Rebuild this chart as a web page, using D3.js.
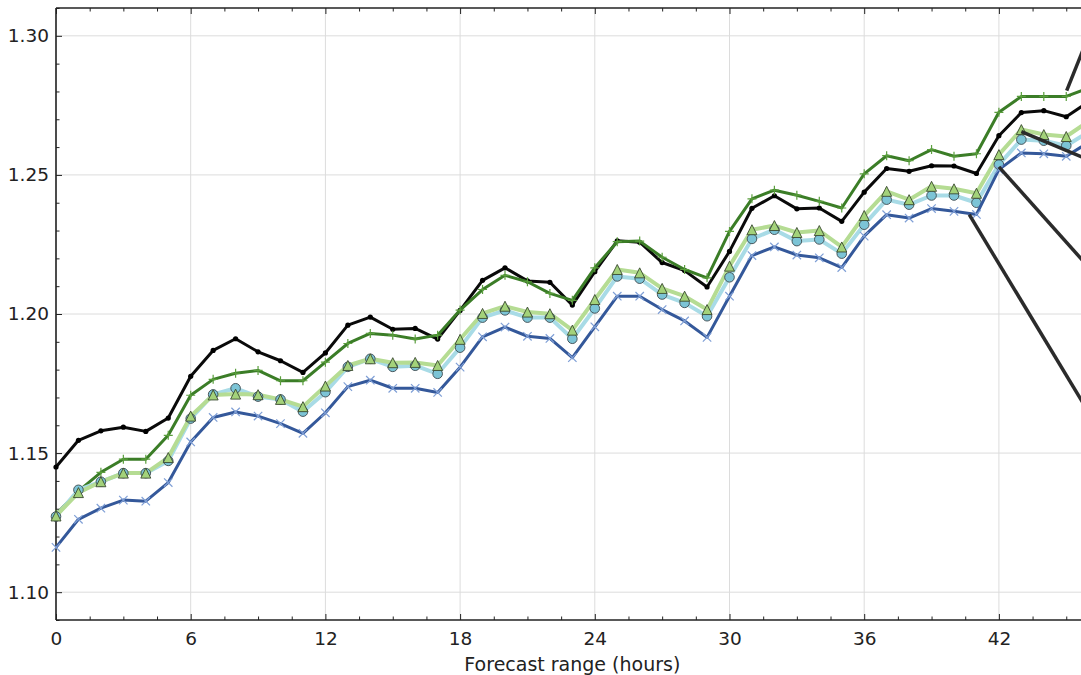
<!DOCTYPE html>
<html><head><meta charset="utf-8">
<script src="https://cdn.jsdelivr.net/npm/d3@7"></script>
<style>
html,body{margin:0;padding:0;background:#fff;overflow:hidden;}
text{font-family:"DejaVu Sans",sans-serif;fill:#222;}
</style></head>
<body><svg id="chart" width="1081" height="675"></svg>
<script>
const hours = d3.range(0, 47);
const xTicks = [0, 6, 12, 18, 24, 30, 36, 42];
const yTicks = [1.10, 1.15, 1.20, 1.25, 1.30];
const xLabel = "Forecast range (hours)";

const blackSeries = [1.1450,1.1546,1.1580,1.1593,1.1578,1.1626,1.1776,1.1869,1.1911,1.1864,1.1832,1.1790,1.1860,1.1960,1.1989,1.1945,1.1948,1.1910,1.2013,1.2121,1.2166,1.2119,1.2114,1.2032,1.2152,1.2263,1.2258,1.2185,1.2156,1.2097,1.2225,1.2380,1.2425,1.2378,1.2381,1.2333,1.2438,1.2523,1.2513,1.2533,1.2532,1.2505,1.2641,1.2724,1.2731,1.2709,1.2763];
const darkGreenSeries = [1.1280,1.1363,1.1431,1.1478,1.1478,1.1564,1.1708,1.1765,1.1787,1.1797,1.1760,1.1760,1.1827,1.1894,1.1930,1.1924,1.1910,1.1924,1.2014,1.2088,1.2139,1.2116,1.2074,1.2049,1.2166,1.2260,1.2262,1.2204,1.2160,1.2130,1.2297,1.2414,1.2445,1.2427,1.2405,1.2381,1.2504,1.2569,1.2551,1.2591,1.2567,1.2576,1.2725,1.2782,1.2782,1.2782,1.2813];
const lightGreenSeries = [1.1274,1.1358,1.1397,1.1428,1.1428,1.1484,1.1633,1.1709,1.1712,1.1710,1.1693,1.1667,1.1741,1.1815,1.1839,1.1825,1.1826,1.1815,1.1909,1.2002,1.2028,1.2007,1.2001,1.1942,1.2052,1.2160,1.2148,1.2092,1.2064,1.2016,1.2172,1.2303,1.2318,1.2293,1.2300,1.2241,1.2354,1.2441,1.2411,1.2459,1.2450,1.2434,1.2573,1.2663,1.2645,1.2638,1.2693];
const lightBlueSeries = [1.1272,1.1368,1.1397,1.1428,1.1428,1.1472,1.1624,1.1711,1.1733,1.1703,1.1693,1.1649,1.1719,1.1810,1.1839,1.1810,1.1814,1.1785,1.1879,1.1987,1.2013,1.1987,1.1987,1.1911,1.2020,1.2135,1.2127,1.2070,1.2040,1.1992,1.2132,1.2270,1.2303,1.2262,1.2268,1.2217,1.2321,1.2411,1.2393,1.2426,1.2426,1.2400,1.2537,1.2627,1.2623,1.2605,1.2655];
const darkBlueSeries = [1.1161,1.1262,1.1302,1.1331,1.1327,1.1394,1.1540,1.1628,1.1648,1.1633,1.1606,1.1571,1.1645,1.1739,1.1762,1.1733,1.1733,1.1718,1.1809,1.1918,1.1953,1.1920,1.1912,1.1843,1.1954,1.2064,1.2064,1.2016,1.1975,1.1916,1.2064,1.2210,1.2241,1.2212,1.2202,1.2167,1.2280,1.2357,1.2345,1.2379,1.2369,1.2358,1.2519,1.2579,1.2576,1.2567,1.2617];

// annotation pointers: [fromHour, fromValue, toHour, toValue]
const annotationLines = [
  [45.02, 1.2803, 46.2, 1.3041],
  [43.0, 1.2656, 46.5, 1.2537],
  [42.0, 1.2529, 46.5, 1.2123],
  [40.68, 1.2357, 46.5, 1.1580]
];

const svg = d3.select("#chart");
const L = 56, T = 8, B = 620, R = 1088.7;
const x = d3.scaleLinear().domain([0, 46]).range([L, R]);
const y = d3.scaleLinear().domain([1.09, 1.31]).range([B, T]);

// grid
const grid = svg.append("g");
grid.selectAll(".gx").data(xTicks).enter().append("line")
  .attr("x1", d => x(d)).attr("x2", d => x(d)).attr("y1", T).attr("y2", B)
  .attr("stroke", "#dcdcdc").attr("stroke-width", 1);
grid.selectAll(".gy").data(yTicks).enter().append("line")
  .attr("x1", L).attr("x2", R).attr("y1", d => y(d)).attr("y2", d => y(d))
  .attr("stroke", "#dcdcdc").attr("stroke-width", 1);

// axes (inward ticks)
const minorX = d3.range(0, 46.01, 1.5).filter(v => !xTicks.includes(v));
const minorY = d3.range(1.09, 1.3101, 0.01).map(v => +v.toFixed(2)).filter(v => !yTicks.includes(v));

svg.append("g").attr("transform", `translate(0,${B})`)
  .call(d3.axisBottom(x).tickValues(xTicks).tickSize(-6).tickPadding(12).tickFormat(d3.format("d")));
svg.append("g").attr("transform", `translate(0,${B})`)
  .call(d3.axisBottom(x).tickValues(minorX).tickSize(-3.5).tickFormat(""));
svg.append("g").attr("transform", `translate(0,${T})`)
  .call(d3.axisTop(x).tickValues(xTicks).tickSize(-6).tickFormat(""));
svg.append("g").attr("transform", `translate(0,${T})`)
  .call(d3.axisTop(x).tickValues(minorX).tickSize(-3.5).tickFormat(""));
svg.append("g").attr("transform", `translate(${L},0)`)
  .call(d3.axisLeft(y).tickValues(yTicks).tickSize(-6).tickPadding(7).tickFormat(d3.format(".2f")));
svg.append("g").attr("transform", `translate(${L},0)`)
  .call(d3.axisLeft(y).tickValues(minorY).tickSize(-3.5).tickFormat(""));
svg.selectAll(".domain").remove();
svg.selectAll(".tick line").attr("stroke", "#222").attr("stroke-width", 1);
svg.selectAll(".tick text").style("font-size", "18.5px").attr("fill", "#222");

// frame
svg.append("line").attr("x1", L).attr("x2", L).attr("y1", T).attr("y2", B).attr("stroke", "#222").attr("stroke-width", 1.6);
svg.append("line").attr("x1", L).attr("x2", R + 5).attr("y1", T).attr("y2", T).attr("stroke", "#222").attr("stroke-width", 1.6);
svg.append("line").attr("x1", L).attr("x2", R + 5).attr("y1", B).attr("y2", B).attr("stroke", "#222").attr("stroke-width", 1.6);

svg.append("text").attr("x", (L + R) / 2).attr("y", 670.5).attr("text-anchor", "middle")
  .style("font-size", "19px").text(xLabel);

const line = d3.line().x((d, i) => x(hours[i])).y(d => y(d));
const plot = svg.append("g");

function series(data, color, width) {
  plot.append("path").datum(data).attr("d", line).attr("fill", "none")
    .attr("stroke", color).attr("stroke-width", width)
    .attr("stroke-linejoin", "round");
}

// black
series(blackSeries, "#0a0a0a", 3);
plot.append("g").selectAll("circle").data(blackSeries).enter().append("circle")
  .attr("cx", (d, i) => x(hours[i])).attr("cy", d => y(d)).attr("r", 2.6).attr("fill", "#000");

// dark green
series(darkGreenSeries, "#3b7d27", 3);
plot.append("g").selectAll("path").data(darkGreenSeries).enter().append("path")
  .attr("d", (d, i) => { const cx = x(hours[i]), cy = y(d), s = 4.5; return `M${cx - s},${cy}H${cx + s}M${cx},${cy - s}V${cy + s}`; })
  .attr("stroke", "#5a9e3c").attr("stroke-width", 1.2);

// light blue
series(lightBlueSeries, "#a8dbe6", 4);
// light green
series(lightGreenSeries, "#b5dc93", 4);

plot.append("g").selectAll("circle").data(lightBlueSeries).enter().append("circle")
  .attr("cx", (d, i) => x(hours[i])).attr("cy", d => y(d)).attr("r", 4.8)
  .attr("fill", "#7cc4d6").attr("stroke", "#3d4a4f").attr("stroke-width", 0.9);
plot.append("g").selectAll("path").data(lightGreenSeries).enter().append("path")
  .attr("d", (d, i) => { const cx = x(hours[i]), cy = y(d), s = 5; return `M${cx},${cy - s}L${cx - s},${cy + s}L${cx + s},${cy + s}Z`; })
  .attr("fill", "#a3d27a").attr("stroke", "#3a4a30").attr("stroke-width", 0.9);

// dark blue
series(darkBlueSeries, "#34589a", 3);
plot.append("g").selectAll("path").data(darkBlueSeries).enter().append("path")
  .attr("d", (d, i) => { const cx = x(hours[i]), cy = y(d), s = 4.2; return `M${cx - s},${cy - s}L${cx + s},${cy + s}M${cx - s},${cy + s}L${cx + s},${cy - s}`; })
  .attr("stroke", "#7f9fd6").attr("stroke-width", 1.2);

// annotation pointer lines
svg.append("g").selectAll("line").data(annotationLines).enter().append("line")
  .attr("x1", d => x(d[0])).attr("y1", d => y(d[1]))
  .attr("x2", d => x(d[2])).attr("y2", d => y(d[3]))
  .attr("stroke", "#2b2b2b").attr("stroke-width", 3.5);
</script></body></html>
